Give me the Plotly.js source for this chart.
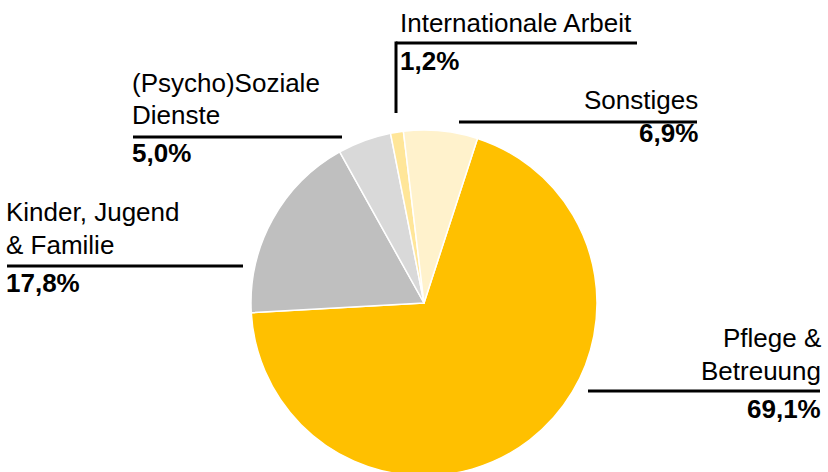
<!DOCTYPE html>
<html>
<head>
<meta charset="utf-8">
<script src="https://cdn.plot.ly/plotly-3.0.1.min.js"></script>
<style>
html,body{margin:0;padding:0;overflow:hidden;background:#fff;}
#chart{width:828px;height:476px;}
</style>
</head>
<body>
<div id="chart"></div>
<script>
// Data (clockwise order, starting at the Pflege slice)
const categories = ["Pflege &<br>Betreuung", "Kinder, Jugend<br>& Familie", "(Psycho)Soziale<br>Dienste", "Internationale Arbeit", "Sonstiges"];
const shares = [69.1, 17.8, 5.0, 1.2, 6.9];
const shareLabels = ["69,1%", "17,8%", "5,0%", "1,2%", "6,9%"];
const colors = ["#FFC000", "#BFBFBF", "#D9D9D9", "#FFE699", "#FFF2CC"];

const W = 828, H = 476;
const px = x => x / W;
const py = y => 1 - y / H;

// label layout per category: name lines baselines, align, anchor x, rule line, pct baseline
const labelLayout = [
  {x: 823, align: "right", base: [347, 380], rule: [588, 820, 391], pct: 418},
  {x: 4, align: "left", base: [221, 254], rule: [7, 243, 266], pct: 292},
  {x: 130, align: "left", base: [92, 124], rule: [133, 342, 137], pct: 162},
  {x: 398, align: "left", base: [32], rule: [396, 637, 43], pct: 70, vline: [396, 43, 113]},
  {x: 700, align: "right", base: [109], rule: [459, 697, 122], pct: 142}
];

const fontFam = "Liberation Sans, Arial, sans-serif";
const FS = 26;
const annotations = [];
const shapes = [];
const off = 9; // baseline -> middle of caps

categories.forEach((cat, i) => {
  const L = labelLayout[i];
  const lines = cat.split("<br>");
  lines.forEach((t, j) => {
    annotations.push({
      xref: "paper", yref: "paper", x: px(L.x), y: py(L.base[j] - off),
      xanchor: L.align, yanchor: "middle", text: t, showarrow: false,
      font: {family: fontFam, size: FS, color: "#000"}
    });
  });
  annotations.push({
    xref: "paper", yref: "paper", x: px(L.x), y: py(L.pct - off),
    xanchor: L.align, yanchor: "middle", text: "<b>" + shareLabels[i] + "</b>", showarrow: false,
    font: {family: fontFam, size: FS, color: "#000"}
  });
  shapes.push({type: "line", xref: "paper", yref: "paper",
    x0: px(L.rule[0]), x1: px(L.rule[1]), y0: py(L.rule[2]), y1: py(L.rule[2]),
    line: {color: "#000", width: 3}});
  if (L.vline) {
    shapes.push({type: "line", xref: "paper", yref: "paper",
      x0: px(L.vline[0]), x1: px(L.vline[0]), y0: py(L.vline[1] - 1.5), y1: py(L.vline[2]),
      line: {color: "#000", width: 3}});
  }
});

const trace = {
  type: "pie",
  labels: categories,
  values: shares,
  sort: false,
  direction: "clockwise",
  rotation: 18,
  textinfo: "none",
  hoverinfo: "label+value",
  marker: {colors: colors, line: {color: "#fff", width: 1.5}},
  domain: {x: [251 / W, 597 / W], y: [0, 346 / H]}
};

Plotly.newPlot("chart", [trace], {
  width: W, height: H,
  margin: {l: 0, r: 0, t: 0, b: 0},
  paper_bgcolor: "#fff",
  showlegend: false,
  annotations: annotations,
  shapes: shapes
}, {staticPlot: true});
</script>
</body>
</html>
